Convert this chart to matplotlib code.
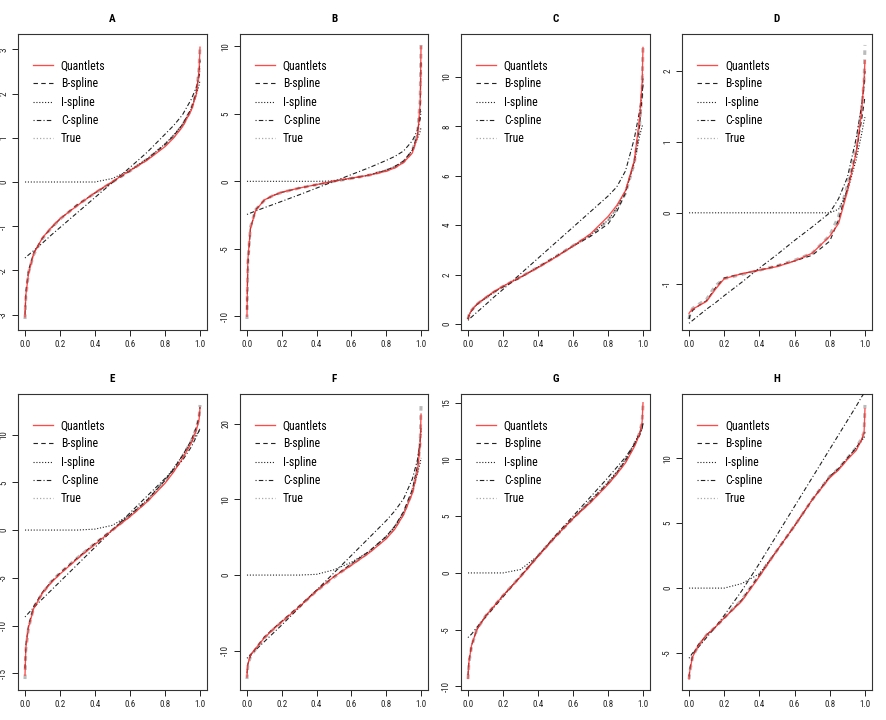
import matplotlib
matplotlib.use("Agg")
import matplotlib.pyplot as plt
from matplotlib import font_manager

avail = {f.name for f in font_manager.fontManager.ttflist}
FONT = next((f for f in ["Liberation Sans Narrow", "Roboto Condensed", "Liberation Sans", "DejaVu Sans"] if f in avail), "DejaVu Sans")
plt.rcParams['font.family'] = [FONT, 'DejaVu Sans']

# common probability grid
X = [0, 0.005, 0.02, 0.05, 0.1, 0.15, 0.2, 0.3, 0.4, 0.5, 0.6, 0.7, 0.8, 0.85, 0.9, 0.95, 0.98, 0.995, 1.0]

panels = ["A", "B", "C", "D", "E", "F", "G", "H"]
series_names = ["Quantlets", "B-spline", "I-spline", "C-spline", "True"]

true_A = [-3.1, -2.58, -2.05, -1.64, -1.28, -1.04, -0.84, -0.52, -0.25, 0.0, 0.25, 0.52, 0.84, 1.04, 1.28, 1.64, 2.05, 2.58, 3.1]
quant_A = [-3.05, -2.55, -2.08, -1.62, -1.26, -1.03, -0.83, -0.53, -0.24, 0.01, 0.26, 0.50, 0.80, 1.0, 1.25, 1.62, 2.0, 2.55, 3.05]
bspl_A = [-3.0, -2.5, -2.0, -1.6, -1.27, -1.04, -0.84, -0.51, -0.25, 0.0, 0.25, 0.52, 0.85, 1.05, 1.3, 1.66, 2.05, 2.5, 2.75]
ispl_A = [0, 0, 0, 0, 0, 0, 0, 0, 0.0, 0.08, 0.27, 0.53, 0.86, 1.06, 1.3, 1.65, 2.0, 2.2, 2.3]
cspl_A = [-1.72, -1.7, -1.65, -1.55, -1.38, -1.2, -1.03, -0.69, -0.35, -0.01, 0.33, 0.68, 1.08, 1.28, 1.52, 1.87, 2.15, 2.4, 2.5]

true_B = [-10.2, -6.0, -3.4, -2.1, -1.4, -1.05, -0.82, -0.5, -0.25, 0.0, 0.22, 0.45, 0.8, 1.05, 1.45, 2.2, 3.6, 6.0, 10.1]
quant_B = [-10.0, -5.8, -3.5, -2.15, -1.38, -1.05, -0.8, -0.5, -0.24, 0.02, 0.24, 0.45, 0.75, 1.0, 1.4, 2.1, 3.3, 5.8, 10.0]
bspl_B = [-9.5, -6.2, -3.5, -2.1, -1.4, -1.05, -0.82, -0.5, -0.25, 0.0, 0.22, 0.46, 0.82, 1.1, 1.5, 2.3, 3.5, 5.2, 9.0]
ispl_B = [0, 0, 0, 0, 0, 0, 0, 0, 0, 0.03, 0.22, 0.46, 0.82, 1.1, 1.5, 2.3, 3.2, 3.7, 4.0]
cspl_B = [-2.45, -2.43, -2.35, -2.2, -1.95, -1.72, -1.48, -1.0, -0.5, 0.0, 0.5, 1.0, 1.55, 1.85, 2.25, 3.0, 3.8, 4.6, 5.2]

true_C = [0.2, 0.35, 0.55, 0.8, 1.05, 1.3, 1.52, 1.9, 2.3, 2.72, 3.17, 3.6, 4.2, 4.65, 5.3, 6.5, 8.0, 9.5, 11.3]
quant_C = [0.22, 0.35, 0.55, 0.8, 1.07, 1.32, 1.53, 1.9, 2.28, 2.7, 3.15, 3.65, 4.35, 4.8, 5.4, 6.6, 8.3, 9.8, 11.2]
bspl_C = [0.2, 0.33, 0.53, 0.78, 1.05, 1.3, 1.5, 1.88, 2.3, 2.72, 3.15, 3.55, 4.05, 4.55, 5.3, 6.6, 8.0, 9.2, 10.1]
ispl_C = [0.2, 0.35, 0.55, 0.8, 1.05, 1.3, 1.52, 1.9, 2.3, 2.72, 3.17, 3.6, 4.2, 4.7, 5.4, 6.5, 7.6, 8.0, 8.1]
cspl_C = [0.15, 0.18, 0.28, 0.47, 0.78, 1.1, 1.4, 2.03, 2.66, 3.29, 3.92, 4.55, 5.18, 5.55, 6.2, 7.5, 8.6, 9.3, 9.7]

true_D = [-1.5, -1.42, -1.35, -1.3, -1.22, -1.03, -0.93, -0.87, -0.81, -0.75, -0.67, -0.57, -0.32, -0.05, 0.38, 0.9, 1.46, 1.85, 2.37]
quant_D = [-1.42, -1.4, -1.36, -1.32, -1.25, -1.08, -0.93, -0.86, -0.81, -0.76, -0.68, -0.57, -0.33, -0.15, 0.3, 0.85, 1.4, 1.9, 2.15]
bspl_D = [-1.5, -1.45, -1.38, -1.32, -1.24, -1.06, -0.92, -0.86, -0.81, -0.75, -0.68, -0.6, -0.4, -0.1, 0.35, 0.85, 1.3, 1.55, 1.65]
ispl_D = [0, 0, 0, 0, 0, 0, 0, 0, 0, 0, 0, 0, 0, 0.05, 0.3, 0.75, 1.1, 1.3, 1.35]
cspl_D = [-1.56, -1.55, -1.52, -1.46, -1.36, -1.27, -1.17, -0.98, -0.78, -0.59, -0.39, -0.2, 0.0, 0.2, 0.5, 1.05, 1.5, 1.8, 2.0]

true_E = [-15.6, -12.5, -10.3, -8.1, -6.6, -5.4, -4.5, -2.9, -1.4, 0.0, 1.5, 3.1, 5.1, 6.3, 7.7, 9.3, 10.7, 11.8, 13.1]
quant_E = [-15.2, -12.3, -10.2, -8.2, -6.6, -5.5, -4.6, -3.0, -1.5, 0.0, 1.4, 3.0, 4.9, 6.1, 7.5, 9.1, 10.5, 11.6, 12.8]
bspl_E = [-14.5, -12.0, -10.0, -8.0, -6.5, -5.4, -4.5, -2.9, -1.4, 0.05, 1.55, 3.15, 5.2, 6.4, 7.8, 9.4, 10.8, 11.9, 12.9]
ispl_E = [0, 0, 0, 0, 0, 0, 0, 0, 0.1, 0.5, 1.6, 3.2, 5.3, 6.5, 7.8, 9.2, 10.0, 10.4, 10.6]
cspl_E = [-9.1, -9.0, -8.7, -8.1, -7.2, -6.3, -5.4, -3.6, -1.8, 0.0, 1.8, 3.6, 5.4, 6.3, 7.3, 8.7, 9.8, 10.4, 10.7]

true_F = [-13.75, -12.0, -10.8, -9.8, -8.3, -7.2, -6.2, -4.2, -2.1, -0.3, 1.4, 3.0, 5.0, 6.3, 8.2, 11.0, 14.0, 17.5, 22.5]
quant_F = [-13.5, -11.8, -10.6, -9.7, -8.3, -7.2, -6.2, -4.2, -2.1, -0.2, 1.3, 2.9, 4.8, 6.1, 8.0, 10.8, 13.8, 17.2, 21.3]
bspl_F = [-13.0, -11.8, -10.7, -9.7, -8.2, -7.1, -6.1, -4.1, -2.0, -0.2, 1.5, 3.1, 5.1, 6.5, 8.4, 11.3, 14.5, 17.5, 19.5]
ispl_F = [0, 0, 0, 0, 0, 0, 0, 0, 0.1, 0.7, 1.7, 3.1, 5.1, 6.4, 8.3, 11.1, 13.5, 14.8, 15.5]
cspl_F = [-11.0, -10.9, -10.5, -9.9, -8.8, -7.7, -6.6, -4.3, -2.0, 0.3, 2.6, 4.9, 7.2, 8.5, 10.1, 12.7, 15.3, 17.8, 19.0]

true_G = [-9.35, -8.0, -6.5, -5.0, -3.8, -2.9, -2.0, -0.3, 1.5, 3.2, 4.8, 6.3, 7.9, 8.8, 9.9, 11.3, 12.3, 13.3, 14.8]
quant_G = [-9.3, -7.9, -6.4, -5.0, -3.8, -2.9, -2.0, -0.35, 1.45, 3.2, 4.8, 6.2, 7.8, 8.7, 9.7, 11.1, 12.2, 13.3, 15.0]
bspl_G = [-9.0, -7.8, -6.4, -5.0, -3.8, -2.9, -2.0, -0.3, 1.5, 3.2, 4.8, 6.3, 7.9, 8.8, 9.9, 11.3, 12.3, 12.9, 13.2]
ispl_G = [0, 0, 0, 0, 0, 0, 0, 0.3, 1.5, 3.2, 4.8, 6.4, 8.0, 8.9, 10.0, 11.4, 12.3, 12.7, 12.8]
cspl_G = [-5.7, -5.6, -5.4, -4.8, -3.9, -3.0, -2.1, -0.3, 1.5, 3.3, 5.0, 6.7, 8.4, 9.3, 10.2, 11.3, 12.1, 12.7, 13.2]

true_H = [-7.0, -6.4, -5.3, -4.5, -3.6, -3.0, -2.3, -0.9, 1.0, 2.9, 4.8, 6.8, 8.6, 9.2, 10.0, 10.8, 11.5, 12.0, 14.1]
quant_H = [-7.0, -6.3, -5.3, -4.5, -3.6, -3.0, -2.3, -1.0, 0.9, 2.9, 4.8, 6.8, 8.5, 9.1, 9.9, 10.6, 11.4, 12.0, 13.8]
bspl_H = [-6.8, -6.2, -5.2, -4.4, -3.6, -3.0, -2.3, -0.9, 1.0, 2.9, 4.8, 6.8, 8.6, 9.2, 10.0, 10.8, 11.4, 11.8, 12.0]
ispl_H = [0, 0, 0, 0, 0, 0, 0, 0.35, 1.1, 2.9, 4.8, 6.8, 8.6, 9.2, 10.0, 10.8, 11.3, 11.6, 11.7]
cspl_H = [-5.4, -5.3, -5.0, -4.6, -3.8, -3.0, -2.1, -0.2, 1.9, 4.1, 6.3, 8.5, 10.7, 11.8, 12.9, 14.0, 14.7, 15.0, 15.2]

data = {
    "A": (true_A, quant_A, bspl_A, ispl_A, cspl_A),
    "B": (true_B, quant_B, bspl_B, ispl_B, cspl_B),
    "C": (true_C, quant_C, bspl_C, ispl_C, cspl_C),
    "D": (true_D, quant_D, bspl_D, ispl_D, cspl_D),
    "E": (true_E, quant_E, bspl_E, ispl_E, cspl_E),
    "F": (true_F, quant_F, bspl_F, ispl_F, cspl_F),
    "G": (true_G, quant_G, bspl_G, ispl_G, cspl_G),
    "H": (true_H, quant_H, bspl_H, ispl_H, cspl_H),
}

yticks = {
    "A": [-3, -2, -1, 0, 1, 2, 3],
    "B": [-10, -5, 0, 5, 10],
    "C": [0, 2, 4, 6, 8, 10],
    "D": [-1, 0, 1, 2],
    "E": [-15, -10, -5, 0, 5, 10],
    "F": [-10, 0, 10, 20],
    "G": [-10, -5, 0, 5, 10, 15],
    "H": [-5, 0, 5, 10],
}
xticks = [0.0, 0.2, 0.4, 0.6, 0.8, 1.0]
xticklabels = ["0.0", "0.2", "0.4", "0.6", "0.8", "1.0"]

W, H = 886, 720
fig = plt.figure(figsize=(W / 100, H / 100), dpi=100)

# axes frames in pixels: (left, right) per column, (top, bottom) per row
cols = [(18, 207), (240, 428), (461, 650), (682, 872)]
rows = [(34, 330), (394, 690)]

styles = {
    "Quantlets": dict(color="#ff2a2a", lw=0.95, ls="-", alpha=0.85),
    "B-spline": dict(color="#222222", lw=0.8, ls=(0, (4, 3))),
    "I-spline": dict(color="#222222", lw=0.8, ls=(0, (1, 1.6))),
    "C-spline": dict(color="#222222", lw=0.8, ls=(0, (1, 2, 4, 2))),
    "True": dict(color="#aaaaaa", lw=0.9, ls=(0, (1, 1.6))),
}

for i, p in enumerate(panels):
    r, c = divmod(i, 4)
    l, rr = cols[c]
    t, b = rows[r]
    ax = fig.add_axes([l / W, 1 - b / H, (rr - l) / W, (b - t) / H])
    tr, qu, bs, isp, cs = data[p]
    # thick grey true curve underneath (empirical quantile look)
    ax.plot(X, tr, color="#bbbbbb", lw=2.2, ls=(0, (1.5, 1.5)), zorder=1)
    ax.plot(X, bs, zorder=3, **styles["B-spline"])
    ax.plot(X, isp, zorder=3, **styles["I-spline"])
    ax.plot(X, cs, zorder=3, **styles["C-spline"])
    ax.plot(X, qu, zorder=4, **styles["Quantlets"])
    lo, hi = min(tr), max(tr)
    pad = 0.04 * (hi - lo)
    ax.set_ylim(lo - pad, hi + pad)
    ax.set_xlim(-0.04, 1.04)
    ax.set_xticks(xticks)
    ax.set_xticklabels(xticklabels)
    ax.set_yticks(yticks[p])
    ax.set_yticklabels([str(v) for v in yticks[p]], rotation=90, va="center")
    ax.tick_params(axis="both", direction="out", length=4, width=0.7, labelsize=6.5, colors="#222222", pad=3)
    for s in ax.spines.values():
        s.set_linewidth(0.8)
        s.set_color("#333333")
    ax.set_title(p, fontsize=8, fontweight="bold", pad=9)

    handles = [
        plt.Line2D([], [], **styles["Quantlets"]),
        plt.Line2D([], [], **styles["B-spline"]),
        plt.Line2D([], [], **styles["I-spline"]),
        plt.Line2D([], [], **styles["C-spline"]),
        plt.Line2D([], [], **styles["True"]),
    ]
    ax.legend(handles, series_names, loc="upper left", bbox_to_anchor=(0.078, 0.915),
              frameon=False, fontsize=8.5, handlelength=1.7, handletextpad=0.68,
              labelspacing=0.45, borderpad=0, borderaxespad=0)

fig.savefig("out.png", dpi=100)
